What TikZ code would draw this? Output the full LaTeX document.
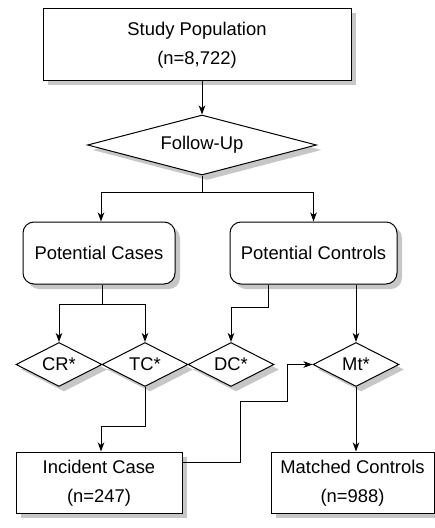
\documentclass[tikz,border=0pt]{standalone}
\usepackage{fontspec}
\setmainfont{Liberation Sans}
\usetikzlibrary{shapes.geometric,shadows,arrows.meta}
\newcommand{\twol}[2]{\begin{tabular}{@{}c@{}}#1\\#2\end{tabular}}
\begin{document}
\begin{tikzpicture}[x=1pt,y=-1pt,
  every node/.style={font=\fontsize{18.4}{29}\selectfont, inner sep=0pt},
  shad/.style={drop shadow={shadow xshift=5pt, shadow yshift=-5pt, fill=black!22, opacity=1}},
  boxnode/.style={draw, line width=1pt, fill=white, shad, rectangle},
  roundnode/.style={draw, line width=1pt, fill=white, shad, rectangle, rounded corners=11pt},
  dia/.style={draw, line width=1pt, fill=white, shad, diamond, aspect=2},
  arr/.style={line width=0.9pt, -{Stealth[length=9pt,width=6.5pt,inset=2.5pt]}},
  ln/.style={line width=0.9pt}
]
\useasboundingbox (0,0) rectangle (435,528);
\node[boxnode, minimum width=308pt, minimum height=72pt] (sp) at (197,44) {\twol{Study Population}{(n=8,722)}};
\node[dia, minimum width=229pt, minimum height=60pt] (fu) at (202,145) {Follow-Up};
\node[roundnode, minimum width=152pt, minimum height=62pt] (pca) at (99,253) {Potential Cases};
\node[roundnode, minimum width=167pt, minimum height=62pt] (pco) at (313.5,253) {Potential Controls};
\node[dia, minimum width=86pt, minimum height=44pt] (cr) at (59,364.5) {CR*};
\node[dia, minimum width=86pt, minimum height=44pt] (tc) at (145,364.5) {TC*};
\node[dia, minimum width=86pt, minimum height=44pt] (dc) at (231,364.5) {DC*};
\node[dia, minimum width=86pt, minimum height=44pt] (mt) at (356,364.5) {Mt*};
\node[boxnode, minimum width=166pt, minimum height=61pt] (ic) at (99,482.5) {\twol{Incident Case}{(n=247)}};
\node[boxnode, minimum width=163pt, minimum height=61pt] (mc) at (352.5,482.5) {\twol{Matched Controls}{(n=988)}};

\draw[arr] (fu.north |- sp.south) -- (fu.north);
\draw[ln] (fu.south) -- ++(0,17) coordinate (j1);
\draw[arr] (j1) -| ([xshift=2pt]pca.north);
\draw[arr] (j1) -| (pco.north);
\draw[ln] ([xshift=3pt]pca.south) -- ++(0,20) coordinate (j2);
\draw[arr] (j2) -| (cr.north);
\draw[arr] (j2) -| (tc.north);
\draw[arr] ([xshift=-45.5pt]pco.south) -- ++(0,22.5) -| (dc.north);
\draw[arr] (mt.north |- pco.south) -- (mt.north);
\draw[arr] (tc.south) -- ++(0,39) -| ([xshift=2pt]ic.north);
\draw[arr] ([yshift=20.5pt]ic.east) -- ++(58,0) -- ++(0,-61) -- ++(47,0) |- (mt.west);
\draw[arr] (mt.south) -- (mt.south |- mc.north);
\end{tikzpicture}
\end{document}
